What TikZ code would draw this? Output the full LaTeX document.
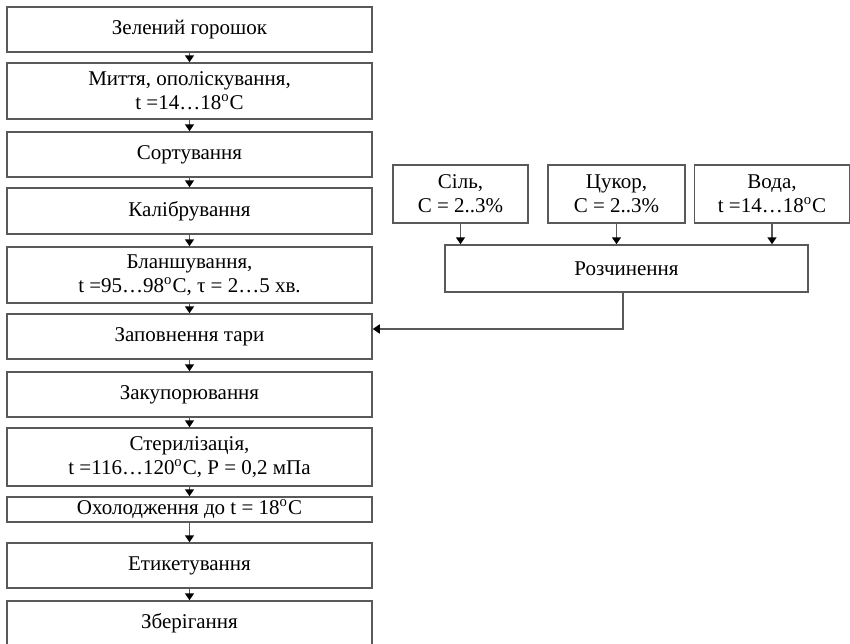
\documentclass[tikz,border=0pt]{standalone}
\usepackage{fontspec}
\setmainfont{Liberation Serif}
\usetikzlibrary{positioning,arrows.meta,calc}

\begin{document}
\begin{tikzpicture}[x=0.5pt, y=-0.5pt, font=\fontsize{10.5}{12}\selectfont,
        stepbox/.style={draw=black!65, line width=0.75pt, align=center, inner sep=0pt},
        flow/.style={draw=black!65, line width=0.75pt, -{Triangle[length=3.5pt,width=4.5pt,color=black]}}]
        \useasboundingbox (0,0) rectangle (850,643);
        % main line of the process
        \foreach \n/\y/\h/\name in {1/29.5/45/{Зелений горошок},
                2/91/56/{Миття, ополіскування,\\t =14…18\textsuperscript{o}C},
                3/154.5/45/{Сортування},
                4/211/46/{Калібрування},
                5/275/56/{Бланшування,\\t =95…98\textsuperscript{o}C, τ = 2…5 хв.},
                6/336.5/45/{Заповнення тари},
                7/394.5/45/{Закупорювання},
                8/457/58/{Стерилізація,\\t =116…120\textsuperscript{o}C, P = 0,2 мПа},
                9/509.5/25/{Охолодження до t = 18\textsuperscript{o}C},
                10/565.5/45/{Етикетування},
                11/623.5/45/{Зберігання}}{\node[stepbox, minimum width=182.5pt, minimum height=\h*0.5pt] (b\n) at (189.5,\y) {\name};}
        \foreach \a/\b in {1/2,2/3,3/4,4/5,5/6,6/7,7/8,8/9,9/10,10/11}{\draw[flow] (b\a) -- (b\b);}
        % brine
        \foreach \n/\x/\w/\name in {1/460.5/135/{Сіль,\\C = 2..3\%},
                2/616.5/137/{Цукор,\\C = 2..3\%},
                3/772/155/{Вода,\\t =14…18\textsuperscript{o}C}}{\node[stepbox, minimum width=\w*0.5pt, minimum height=29pt] (s\n) at (\x,194) {\name};}
        \node[stepbox, minimum width=181.5pt, minimum height=23.5pt] (mix) at (626.5,268.5) {Розчинення};
        \foreach \n in {1,2,3}{\draw[flow] (s\n.south) -- (s\n.south |- mix.north);}
        \draw[flow] ([xshift=-1.75pt]mix.south) |- ([yshift=3.75pt]b6.east);
\end{tikzpicture}
\end{document}
